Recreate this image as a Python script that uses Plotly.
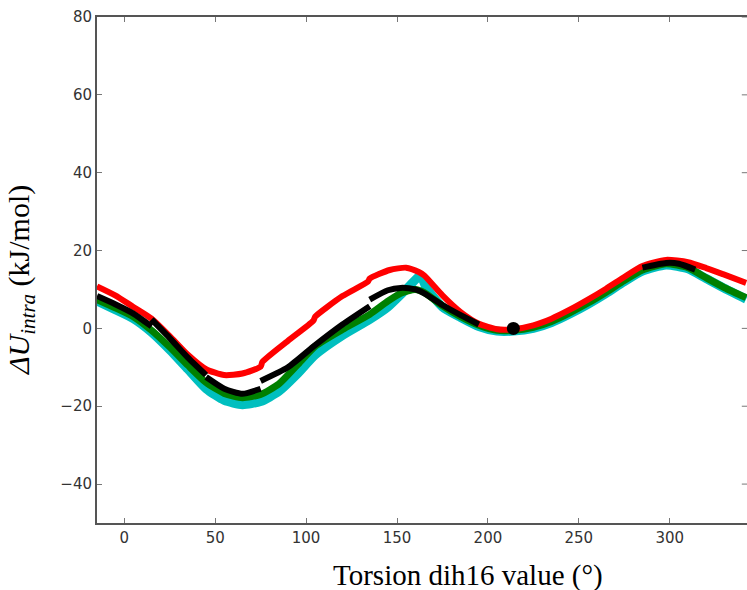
import plotly.graph_objects as go

# ---- data ----
red_x = [-15, -5, 5, 15, 25, 35, 45, 55, 65, 75, 76, 90, 104, 105, 120, 134, 135, 146, 155, 162, 165,
         175, 185, 195, 205, 214, 225, 235, 245, 255, 265, 275, 285, 298, 310, 320, 330, 342]
red_y = [10.8, 8.5, 5.5, 2.5, -2.0, -6.8, -10.5, -12.0, -11.6, -9.8, -8.6, -3.2, 2.0, 3.0, 8.3, 12.0, 12.8,
         15.0, 15.6, 14.5, 13.6, 8.5, 4.2, 1.2, -0.2, -0.2, 0.8, 2.5, 4.8, 7.4, 10.2, 13.2, 16.0, 17.6,
         17.0, 15.5, 13.8, 11.7]

green_x = [-15, -5, 5, 15, 25, 35, 45, 55, 65, 75, 85, 95, 105, 120, 135, 145, 152, 160, 165, 175, 185,
           195, 205, 214, 225, 235, 245, 255, 265, 275, 285, 298, 310, 320, 330, 342]
green_y = [7.4, 5.3, 3.0, -0.5, -4.8, -9.5, -13.9, -16.7, -17.8, -17.0, -14.3, -9.5, -4.6, -0.3, 3.6,
           7.0, 9.0, 10.0, 9.2, 5.8, 3.0, 0.8, -0.5, -0.5, 0.3, 1.8, 4.0, 6.5, 9.3, 12.3, 15.0, 16.6,
           15.6, 13.0, 10.5, 7.9]

cyan_x = [-15, -5, 5, 15, 25, 35, 45, 55, 65, 75, 85, 95, 105, 120, 135, 145, 155, 163, 166, 175, 185,
          195, 205, 214, 225, 235, 245, 255, 265, 275, 285, 298, 310, 320, 330, 342]
cyan_y = [7.0, 4.8, 2.5, -1.0, -5.5, -10.5, -15.5, -18.5, -19.6, -18.8, -16.2, -11.8, -6.8, -1.8, 2.3,
          5.5, 10.0, 13.5, 10.5, 5.5, 2.8, 0.5, -0.7, -0.7, 0.0, 1.5, 3.7, 6.2, 9.0, 12.0, 14.7, 16.3,
          15.3, 12.8, 10.3, 7.5]

black_segments = [
    ([-15, -5, 5, 15], [8.3, 6.2, 3.8, 0.5]),
    ([15, 25, 35, 45], [2.3, -2.5, -7.5, -12.0]),
    ([45, 55, 65, 75], [-12.5, -15.5, -16.8, -15.5]),
    ([75, 90, 105, 120, 135], [-13.5, -10.0, -4.3, 1.0, 5.7]),
    ([135, 145, 152, 160, 165, 175, 185, 195], [7.4, 9.8, 10.4, 10.0, 9.0, 6.0, 3.4, 1.0]),
    ([285, 298, 305, 314], [15.6, 16.8, 16.6, 15.1]),
]
ref_point_x = [214]
ref_point_y = [0]

x_ticks = [0, 50, 100, 150, 200, 250, 300]
y_ticks = [-40, -20, 0, 20, 40, 60, 80]

fig = go.Figure()
fig.add_trace(go.Scatter(x=cyan_x, y=cyan_y, mode="lines",
                         line=dict(color="#00bfbf", width=9, shape="spline", smoothing=0.6)))
fig.add_trace(go.Scatter(x=green_x, y=green_y, mode="lines",
                         line=dict(color="#008000", width=7, shape="spline", smoothing=0.6)))
fig.add_trace(go.Scatter(x=red_x, y=red_y, mode="lines",
                         line=dict(color="#ff0000", width=6, shape="spline", smoothing=0.6)))
for sx, sy in black_segments:
    fig.add_trace(go.Scatter(x=sx, y=sy, mode="lines",
                             line=dict(color="#000000", width=6, shape="spline", smoothing=0.6)))
fig.add_trace(go.Scatter(x=ref_point_x, y=ref_point_y, mode="markers",
                         marker=dict(color="#000000", size=13)))

axis_common = dict(showgrid=False, zeroline=False, showline=True, linecolor="#555555", linewidth=2,
                   ticks="inside", ticklen=5, tickwidth=1, tickcolor="#777777",
                   tickfont=dict(family="DejaVu Sans", size=15, color="#333333"))

fig.update_layout(
    width=747, height=590,
    margin=dict(l=97, r=0, t=17, b=67),
    paper_bgcolor="white", plot_bgcolor="white",
    showlegend=False,
    xaxis=dict(range=[-15, 342.5], tickvals=x_ticks, mirror="ticks", **axis_common),
    yaxis=dict(range=[-50, 80], tickvals=y_ticks, mirror=False, **axis_common),
)

# right-side inward tick marks (the right spine itself lies just outside the picture)
for v in y_ticks:
    fig.add_shape(type="line", xref="paper", yref="y", x0=0.992, x1=1.0, y0=v, y1=v,
                  line=dict(color="#777777", width=1))

fig.add_annotation(text="Torsion dih16 value (°)", xref="paper", yref="paper",
                   x=(468 - 97) / 650, y=0, yshift=-52, yanchor="middle", showarrow=False,
                   borderpad=0,
                   font=dict(family="Liberation Serif", size=29, color="#000000"))
fig.add_annotation(text="<i>ΔU</i><sub><i>intra</i></sub> (kJ/mol)", xref="paper", yref="paper",
                   x=0, xshift=-76, y=(590 - 67 - 280) / 506, textangle=-90, xanchor="center",
                   yanchor="middle", showarrow=False,
                   font=dict(family="Liberation Serif", size=30, color="#000000"))

fig.write_html("out.html", config={"displayModeBar": False},
               post_script="document.body.style.margin='0px';document.body.style.overflow='hidden';")
